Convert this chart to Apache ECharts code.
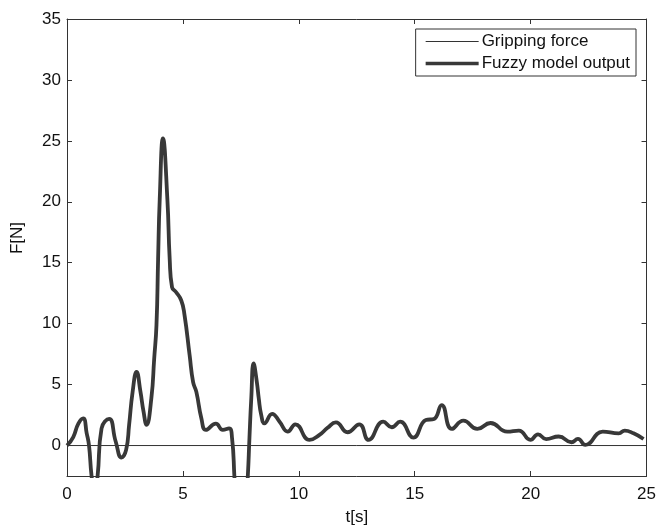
<!DOCTYPE html>
<html>
<head>
<meta charset="utf-8">
<script src="https://cdn.jsdelivr.net/npm/echarts@6/dist/echarts.min.js"></script>
<style>
html,body{margin:0;padding:0;background:#fff;}
#main{width:659px;height:531px;}
</style>
</head>
<body>
<div id="main"></div>
<script>
// Data
var fuzzyT = [0, 0.27, 0.49, 0.70, 0.85, 0.95, 1.06, 1.19, 1.32, 1.49, 1.82, 2.10, 2.35, 2.55, 2.68, 2.83, 3.00, 3.17, 3.30, 3.43, 3.64, 3.76, 3.86, 3.93, 4.00, 4.14, 4.33, 4.43, 4.53, 4.70, 4.93, 5.07, 5.29, 5.44, 5.58, 5.80, 5.99, 6.42, 6.72, 6.99, 7.12, 7.22, 7.50, 7.80, 7.87, 7.95, 8.05, 8.19, 8.27, 8.38, 8.52, 8.85, 9.17, 9.52, 9.85, 10.46, 10.89, 11.24, 11.60, 12.10, 12.61, 13.01, 13.64, 14.01, 14.37, 14.94, 15.48, 15.83, 16.16, 16.60, 17.10, 17.70, 18.27, 18.99, 19.49, 19.99, 20.32, 20.67, 21.21, 21.76, 22.04, 22.36, 23.11, 23.80, 24.06, 24.44, 24.87];
var fuzzyF = [0, 0.7, 1.8, 2.23, 1.0, 0, -2.5, -4.0, -2.5, 1.4, 2.18, 0.33, -0.98, -0.36, 1.7, 4.4, 6.05, 4.4, 2.8, 1.7, 3.9, 7.1, 9.9, 15.3, 20.2, 25.2, 20.2, 15.3, 13.0, 12.6, 11.9, 10.7, 7.4, 5.2, 4.4, 2.2, 1.28, 1.8, 1.28, 1.41, 0.6, -2.5, -12.0, -2.5, 0.6, 3.9, 6.73, 5.2, 3.9, 2.5, 1.82, 2.6, 1.96, 1.14, 1.74, 0.46, 0.87, 1.45, 1.9, 1.09, 1.74, 0.46, 1.96, 1.5, 1.96, 0.65, 2.09, 2.18, 3.32, 1.36, 2.04, 1.36, 1.85, 1.14, 1.23, 0.46, 0.92, 0.52, 0.74, 0.27, 0.54, 0.05, 1.14, 1.0, 1.23, 1.0, 0.54];
var gripT = [0, 25];
var gripF = [0, 0];
var yTicks = [0, 5, 10, 15, 20, 25, 30, 35];
var seriesNames = ['Gripping force', 'Fuzzy model output'];

function pairs(xs, ys) { return xs.map(function (x, i) { return [x, ys[i]]; }); }

var FONT = 'Liberation Sans, Arial, Helvetica, sans-serif';
var AX = '#333';
var chart = echarts.init(document.getElementById('main'), null, {renderer: 'canvas'});

function xAx(pos, showLabel) {
  return {
    type: 'value', position: pos, min: 0, max: 25, interval: 5,
    axisLine: {show: true, onZero: false, lineStyle: {color: AX, width: 1}},
    axisTick: {show: true, inside: true, length: 5, lineStyle: {color: AX}},
    axisLabel: {show: showLabel, color: '#111', fontSize: 17, fontFamily: FONT, margin: 10},
    splitLine: {show: false},
    name: showLabel ? 't[s]' : '', nameLocation: 'middle', nameGap: 33,
    nameTextStyle: {color: '#111', fontSize: 17, fontFamily: FONT}
  };
}
function yAx(pos, showLabel) {
  return {
    type: 'value', position: pos, min: -2.5, max: 35,
    axisLine: {show: true, onZero: false, lineStyle: {color: AX, width: 1}},
    axisTick: {show: true, inside: true, length: 5, lineStyle: {color: AX}, customValues: yTicks},
    axisLabel: {show: showLabel, color: '#111', fontSize: 17, fontFamily: FONT, margin: 6, customValues: yTicks},
    splitLine: {show: false}
  };
}

// legend icons: thin and thick horizontal bands inside a 53x14 box
var thinIcon = 'path://M0,0M53,14M0,6.5L53,6.5L53,7.5L0,7.5Z';
var thickIcon = 'path://M0,0M53,14M0,5.25L53,5.25L53,8.75L0,8.75Z';

chart.setOption({
  animation: false,
  backgroundColor: '#fff',
  grid: {left: 67, right: 11, top: 19, bottom: 53, containLabel: false},
  xAxis: [xAx('bottom', true), xAx('top', false)],
  yAxis: [yAx('left', true), yAx('right', false)],
  legend: {
    orient: 'vertical', right: 23, top: 29,
    backgroundColor: '#fff', borderColor: '#333', borderWidth: 1,
    padding: [4, 6, 4, 10], itemGap: 5, itemWidth: 53, itemHeight: 14,
    textStyle: {color: '#111', fontSize: 17, fontFamily: FONT, padding: [0, 0, 0, -2]},
    data: [
      {name: seriesNames[0], icon: thinIcon, itemStyle: {color: '#333', borderWidth: 0}},
      {name: seriesNames[1], icon: thickIcon, itemStyle: {color: '#383838', borderWidth: 0}}
    ]
  },
  graphic: [{
    type: 'text', left: 9, top: 222, rotation: Math.PI / 2,
    style: {text: 'F[N]', fill: '#111', fontSize: 17, fontFamily: FONT}
  }],
  series: [
    {
      name: seriesNames[0], type: 'line', xAxisIndex: 0, yAxisIndex: 0,
      data: pairs(gripT, gripF), symbol: 'none', silent: true,
      lineStyle: {color: '#333', width: 1}, itemStyle: {color: '#333'}, z: 2
    },
    {
      name: seriesNames[1], type: 'line', xAxisIndex: 0, yAxisIndex: 0,
      data: pairs(fuzzyT, fuzzyF), symbol: 'none', smooth: 0.5, clip: true,
      lineStyle: {color: '#383838', width: 3.8}, itemStyle: {color: '#383838'}, z: 3
    }
  ]
});
</script>
</body>
</html>
